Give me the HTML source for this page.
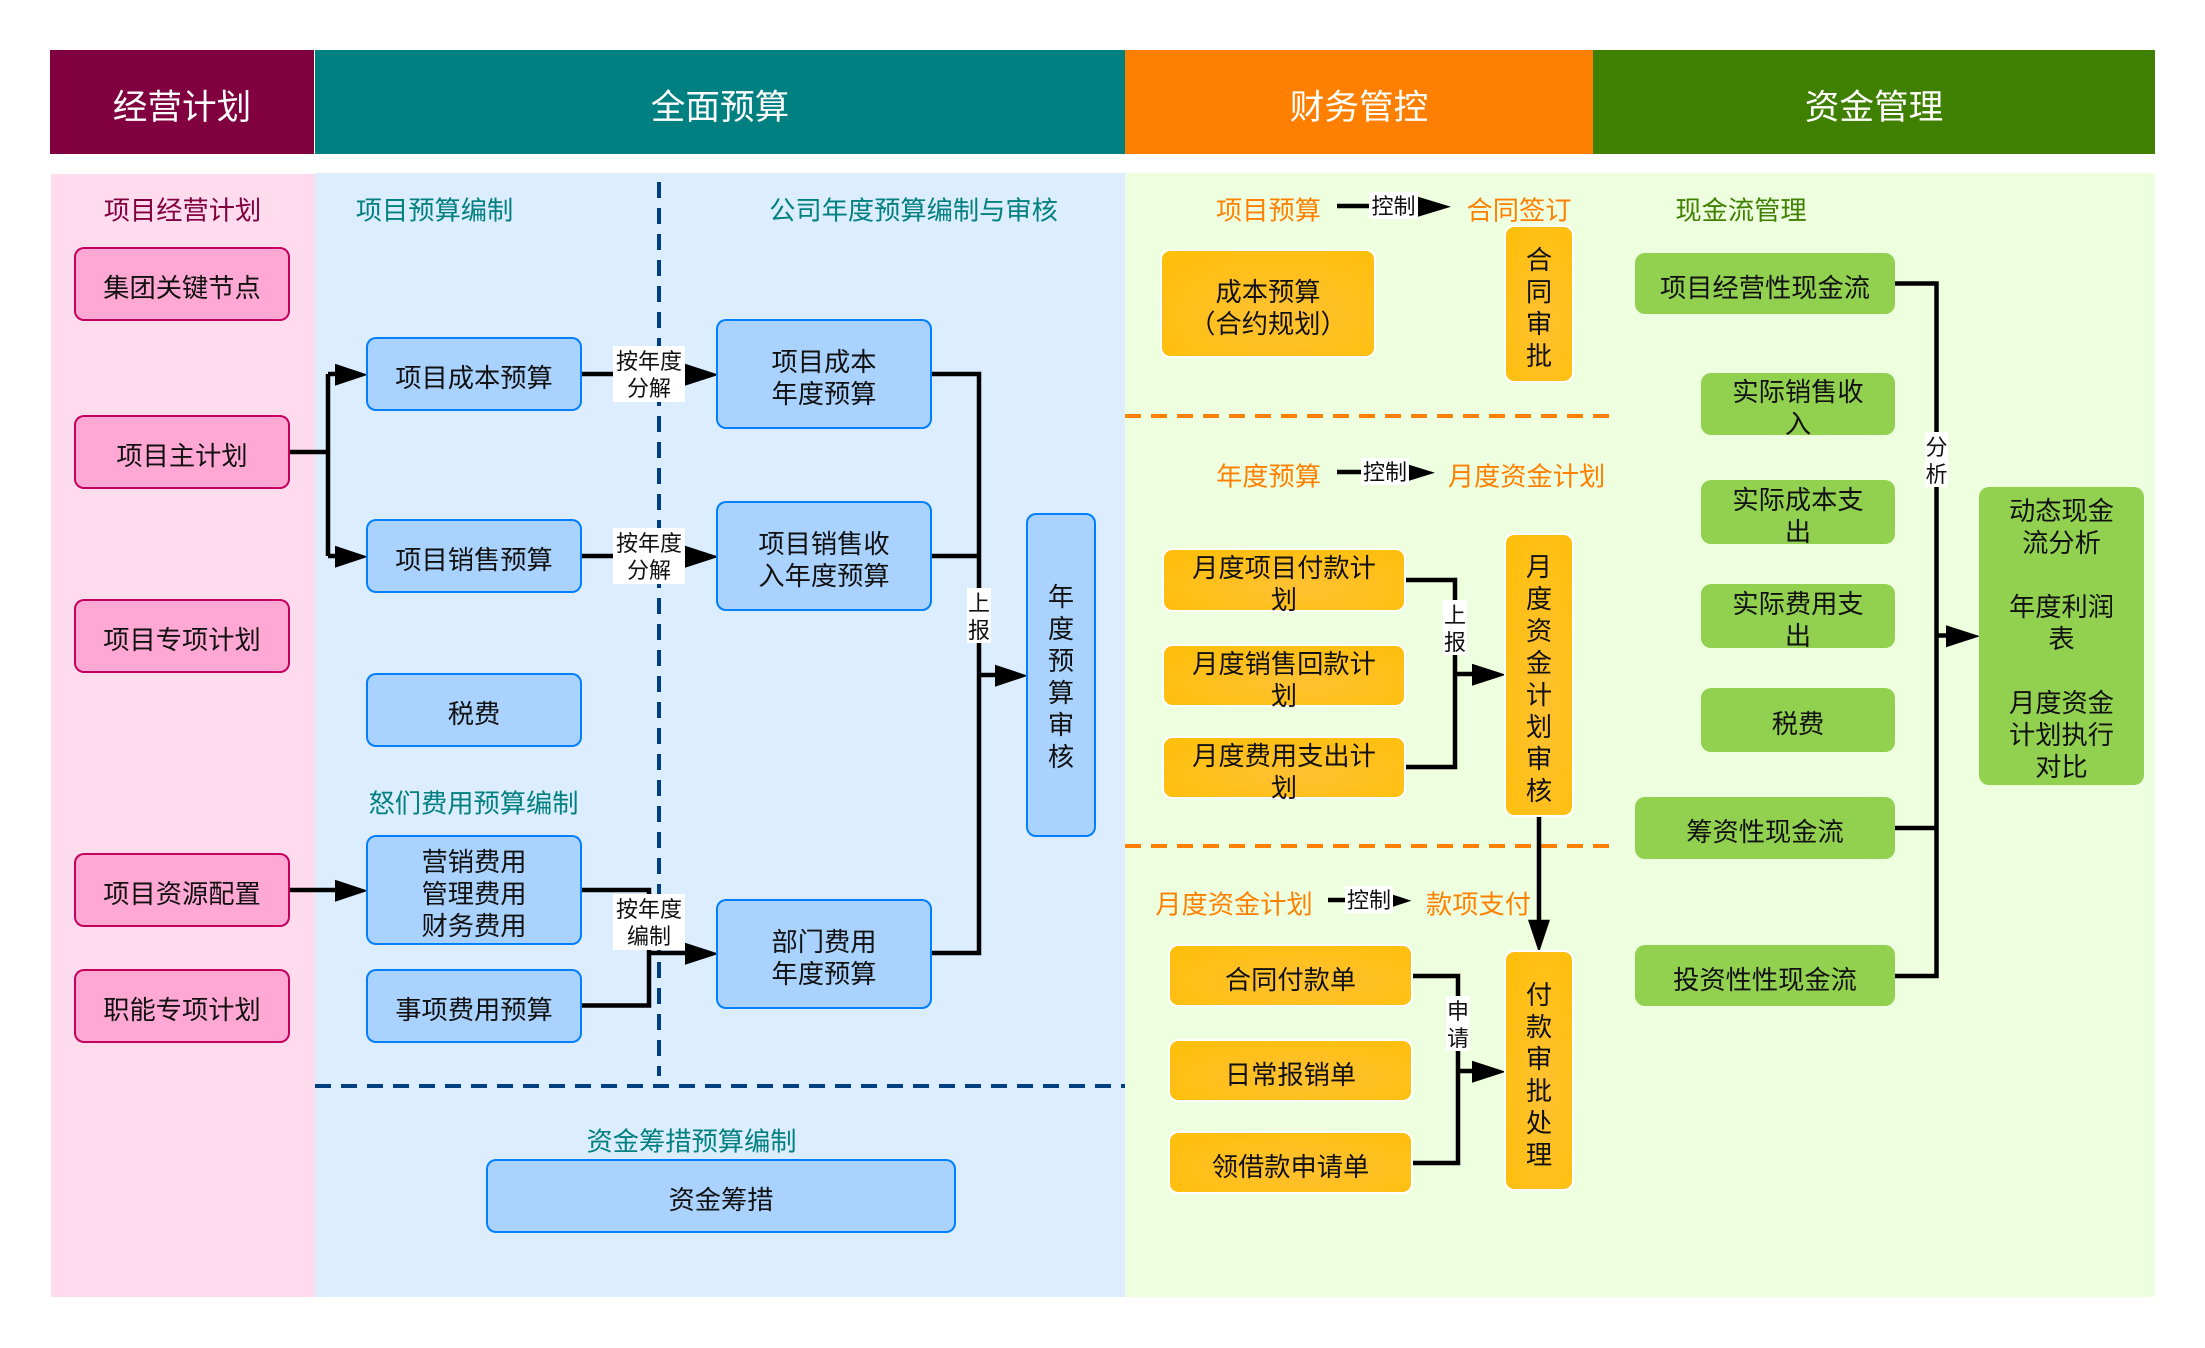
<!DOCTYPE html>
<html lang="zh"><head><meta charset="utf-8"><title>经营计划</title>
<style>
html,body{margin:0;padding:0;background:#fff}
body{width:2205px;height:1348px;position:relative;overflow:hidden;font-family:"Liberation Sans","Noto Sans CJK SC",sans-serif;color:#111}
svg{position:absolute;left:0;top:0}
.b,.t,.h,.l{position:absolute;display:flex;align-items:center;justify-content:center;text-align:center;box-sizing:border-box}
.b{font-size:26.25px;line-height:32px;border-radius:9px;padding-top:8px;white-space:nowrap}
.p{background:#FFA8D3;border:1.5px solid #C4005E;box-shadow:0 0 0 1px #C4005E}
.u{background:#A9D2FF;border:1.5px solid #007FFF;box-shadow:0 0 0 1px #007FFF}
.o{background:radial-gradient(ellipse at 55% 60%,#FFC132,#FFBF0D 85%);background-clip:padding-box;border:1px solid #fff;box-shadow:0 0 0 1px #fff}
.g{background:#92D050;border-radius:10px}
.h{color:#fff;font-size:34.65px;top:50px;height:104px;padding-top:4px}
.t{font-size:26.25px;line-height:32px;height:34px;white-space:nowrap;transform:translateY(1.5px)}
.l{background:#fff;font-size:22px;line-height:27px;white-space:nowrap;color:#111;padding-top:2px}
</style></head><body>
<svg width="2205" height="1348" viewBox="0 0 2205 1348">
<rect x="51" y="174" width="264" height="1123" fill="#FFDBEE"/>
<rect x="315" y="173" width="810" height="1124" fill="#DCEDFF"/>
<rect x="1125" y="173" width="1030" height="1124" fill="#EEFFDF"/>
<g fill="none" stroke="#004080" stroke-width="4" stroke-dasharray="16 10">
<path d="M659 182V1076"/><path d="M315 1086H1125"/></g>
<g fill="none" stroke="#FF8000" stroke-width="4" stroke-dasharray="16 10">
<path d="M1125 416H1609"/><path d="M1125 846H1609"/></g>
<g fill="none" stroke="#000" stroke-width="4.500">
<path d="M289 452H328M328 374V556M328 374H340M328 556H340"/>
<path d="M289 890H340"/>
<path d="M581 374H690M581 556H690"/>
<path d="M581 890H649V953H690M581 1005.500H649V953"/>
<path d="M931 374H979V953H931M931 556H979M979 675H1000"/>
<path d="M1404 580H1455V767H1404M1455 674H1476"/>
<path d="M1411 976H1458V1163H1411M1458 1071H1476"/>
<path d="M1539 816V925"/>
<path d="M1895 283.500H1936.500V976H1895M1895 828H1936.500M1936.500 635.500H1950"/>
<path d="M1337 206H1420M1337 472H1412M1328 900H1395"/>
</g>
<g fill="#000" transform="translate(0,0.7)">
<path d="M335 363L368 374L335 385Z"/>
<path d="M335 545L368 556L335 567Z"/>
<path d="M335 879L368 890L335 901Z"/>
<path d="M685 363L719 374L685 385Z"/>
<path d="M685 545L719 556L685 567Z"/>
<path d="M685 942L719 953L685 964Z"/>
<path d="M995 664L1028 675L995 686Z"/>
<path d="M1472 663L1506 674L1472 685Z"/>
<path d="M1472 1060L1506 1071L1472 1082Z"/>
<path d="M1528 919L1539 952L1550 919Z"/>
<path d="M1946 624.500L1980 635.500L1946 646.500Z"/>
<path d="M1418 196L1451 206L1418 216Z"/>
<path d="M1409 464L1435 472L1409 480Z"/>
<path d="M1393 894L1411.500 900L1393 906Z"/>
</g>
</svg>

<div class="h" style="left:50px;width:264px;background:#800040">经营计划</div>
<div class="h" style="left:315px;width:810px;background:#008080">全面预算</div>
<div class="h" style="left:1125px;width:468px;background:#FF8000">财务管控</div>
<div class="h" style="left:1593px;width:562px;background:#408000">资金管理</div>

<div class="t" style="left:105px;width:155px;top:192px;color:#800040">项目经营计划</div>
<div class="t" style="left:357px;width:155px;top:192px;color:#008080">项目预算编制</div>
<div class="t" style="left:771px;width:285px;top:192px;color:#008080">公司年度预算编制与审核</div>
<div class="t" style="left:370px;width:207px;top:785px;color:#008080">怒们费用预算编制</div>
<div class="t" style="left:588px;width:207px;top:1123px;color:#008080">资金筹措预算编制</div>
<div class="t" style="left:1217px;width:103px;top:192px;color:#FF8000">项目预算</div>
<div class="t" style="left:1467px;width:104px;top:192px;color:#FF8000">合同签订</div>
<div class="t" style="left:1676px;width:130px;top:192px;color:#408000">现金流管理</div>
<div class="t" style="left:1217px;width:103px;top:458px;color:#FF8000">年度预算</div>
<div class="t" style="left:1449px;width:155px;top:458px;color:#FF8000">月度资金计划</div>
<div class="t" style="left:1157px;width:154px;top:886px;color:#FF8000">月度资金计划</div>
<div class="t" style="left:1427px;width:103px;top:886px;color:#FF8000">款项支付</div>

<div class="b p" style="left:75px;top:248px;width:214px;height:72px">集团关键节点</div>
<div class="b p" style="left:75px;top:416px;width:214px;height:72px">项目主计划</div>
<div class="b p" style="left:75px;top:600px;width:214px;height:72px">项目专项计划</div>
<div class="b p" style="left:75px;top:854px;width:214px;height:72px">项目资源配置</div>
<div class="b p" style="left:75px;top:970px;width:214px;height:72px">职能专项计划</div>

<div class="b u" style="left:367px;top:338px;width:214px;height:72px">项目成本预算</div>
<div class="b u" style="left:367px;top:520px;width:214px;height:72px">项目销售预算</div>
<div class="b u" style="left:367px;top:674px;width:214px;height:72px">税费</div>
<div class="b u" style="left:367px;top:836px;width:214px;height:108px">营销费用<br>管理费用<br>财务费用</div>
<div class="b u" style="left:367px;top:970px;width:214px;height:72px">事项费用预算</div>
<div class="b u" style="left:487px;top:1160px;width:468px;height:72px">资金筹措</div>
<div class="b u" style="left:717px;top:320px;width:214px;height:108px">项目成本<br>年度预算</div>
<div class="b u" style="left:717px;top:502px;width:214px;height:108px">项目销售收<br>入年度预算</div>
<div class="b u" style="left:717px;top:900px;width:214px;height:108px">部门费用<br>年度预算</div>
<div class="b u" style="left:1027px;top:514px;width:68px;height:322px;padding-top:3px">年<br>度<br>预<br>算<br>审<br>核</div>

<div class="b o" style="left:1161px;top:250px;width:214px;height:107px">成本预算<br>（合约规划）</div>
<div class="b o" style="left:1505px;top:226px;width:68px;height:156px">合<br>同<br>审<br>批</div>
<div class="b o" style="left:1163px;top:549px;width:242px;height:62px">月度项目付款计<br>划</div>
<div class="b o" style="left:1163px;top:645px;width:242px;height:61px">月度销售回款计<br>划</div>
<div class="b o" style="left:1163px;top:737px;width:242px;height:61px">月度费用支出计<br>划</div>
<div class="b o" style="left:1505px;top:534px;width:68px;height:282px">月<br>度<br>资<br>金<br>计<br>划<br>审<br>核</div>
<div class="b o" style="left:1505px;top:951px;width:68px;height:239px">付<br>款<br>审<br>批<br>处<br>理</div>
<div class="b o" style="left:1169px;top:945px;width:243px;height:61px">合同付款单</div>
<div class="b o" style="left:1169px;top:1040px;width:243px;height:61px">日常报销单</div>
<div class="b o" style="left:1169px;top:1132px;width:243px;height:61px">领借款申请单</div>

<div class="b g" style="left:1635px;top:253px;width:260px;height:61px">项目经营性现金流</div>
<div class="b g" style="left:1701px;top:373px;width:194px;height:62px">实际销售收<br>入</div>
<div class="b g" style="left:1701px;top:480px;width:194px;height:64px">实际成本支<br>出</div>
<div class="b g" style="left:1701px;top:584px;width:194px;height:64px">实际费用支<br>出</div>
<div class="b g" style="left:1701px;top:688px;width:194px;height:64px">税费</div>
<div class="b g" style="left:1635px;top:797px;width:260px;height:62px">筹资性现金流</div>
<div class="b g" style="left:1635px;top:945px;width:260px;height:61px">投资性性现金流</div>
<div class="b g" style="left:1979px;top:487px;width:165px;height:298px;padding-top:6px">动态现金<br>流分析<br><br>年度利润<br>表<br><br>月度资金<br>计划执行<br>对比</div>

<div class="l" style="left:613px;top:346px;width:72px;height:56px">按年度<br>分解</div>
<div class="l" style="left:613px;top:528px;width:72px;height:56px">按年度<br>分解</div>
<div class="l" style="left:613px;top:894px;width:72px;height:56px">按年度<br>编制</div>
<div class="l" style="left:967px;top:588px;width:24px;height:55px">上<br>报</div>
<div class="l" style="left:1443px;top:600px;width:24px;height:55px">上<br>报</div>
<div class="l" style="left:1446px;top:996px;width:24px;height:55px">申<br>请</div>
<div class="l" style="left:1925px;top:432px;width:23px;height:55px">分<br>析</div>
<div class="l" style="left:1369px;top:192px;width:49px;height:27px">控制</div>
<div class="l" style="left:1361px;top:458px;width:48px;height:27px">控制</div>
<div class="l" style="left:1345px;top:886px;width:48px;height:27px">控制</div>
</body></html>
